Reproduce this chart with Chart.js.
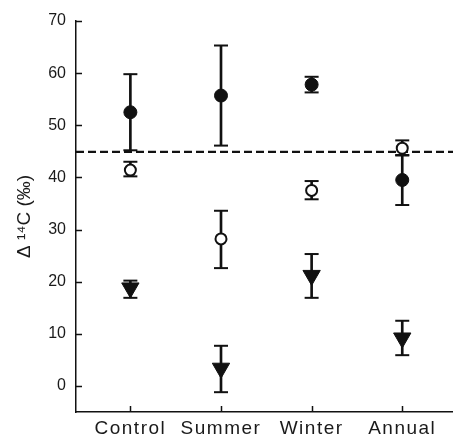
<!DOCTYPE html>
<html>
<head>
<meta charset="utf-8">
<script src="https://cdn.jsdelivr.net/npm/chart.js@4/dist/chart.umd.min.js"></script>
<style>
  html, body { margin: 0; padding: 0; background: #fff; }
  canvas { display: block; }
</style>
</head>
<body>
<canvas id="chart" width="453" height="438"></canvas>
<script>
// categories on the x axis
const categories = ['Control', 'Summer', 'Winter', 'Annual'];

// filled circles
const filledMean = [52.5, 55.7, 57.8, 39.5];
const filledLow  = [45.2, 46.1, 56.3, 34.7];
const filledHigh = [59.8, 65.3, 59.3, 44.3];

// open circles
const openMean = [41.4, 28.2, 37.5, 45.6];
const openLow  = [40.2, 22.6, 35.8, 44.2];
const openHigh = [43.0, 33.6, 39.3, 47.1];

// filled down triangles
const triMean = [18.8, 3.4, 21.2, 9.2];
const triLow  = [16.9, -1.2, 16.9, 5.9];
const triHigh = [20.2, 7.7, 25.3, 12.5];

// dashed reference line
const refValue = 44.9;

// y axis ticks
const yTicks = [0, 10, 20, 30, 40, 50, 60, 70];

const ink = '#111';
const font = "'Liberation Sans', Arial, sans-serif";

//Helpers
function stems(low, high){
    return categories.map((c, i) => ({x: i + 1, y: [low[i], high[i]]}));
}
function caps(low, high){
    let pts = [];
    for(let i = 0; i < categories.length; i++){
        pts.push({x: i + 1, y: low[i]});
        pts.push({x: i + 1, y: high[i]});
    }
    return pts;
}
function points(mean){
    return categories.map((c, i) => ({x: i + 1, y: mean[i]}));
}
function stemSet(low, high){
    return {
        type: 'bar', data: stems(low, high), backgroundColor: ink,
        barThickness: 2, grouped: false, order: 20
    };
}
function capSet(low, high){
    return {
        type: 'scatter', data: caps(low, high), pointStyle: 'line',
        pointRadius: 7, borderColor: ink, borderWidth: 2, order: 15
    };
}

//Inward tick marks
const innerTicks = {
    id: 'innerTicks',
    afterDatasetsDraw(chart){
        const c = chart.ctx;
        const x = chart.scales.x, y = chart.scales.y;
        c.save();
        c.strokeStyle = ink;
        c.lineWidth = 1.5;
        c.beginPath();
        y.ticks.forEach(t => {
            const py = Math.round(y.getPixelForValue(t.value)) + 0.5;
            c.moveTo(x.left, py);
            c.lineTo(x.left + 6, py);
        });
        x.ticks.forEach(t => {
            const px = Math.round(x.getPixelForValue(t.value)) + 0.5;
            c.moveTo(px, y.bottom);
            c.lineTo(px, y.bottom - 6);
        });
        c.stroke();
        c.restore();
    }
};

//Letter spaced category labels
const spacedLabels = {
    id: 'spacedLabels',
    beforeDraw(chart){
        const xs = chart.scales.x;
        if(xs._spaced) return;
        const orig = xs.drawLabels;
        xs.drawLabels = function(area){
            this.ctx.save();
            this.ctx.letterSpacing = '1.5px';
            orig.call(this, area);
            this.ctx.restore();
        };
        xs._spaced = true;
    }
};

var ctx = document.getElementById('chart').getContext('2d');

var chart = new Chart(ctx, {
    type: 'bar',
    data: {
        datasets: [
            {
                type: 'line',
                data: [{x: 0.4, y: refValue}, {x: 4.56, y: refValue}],
                borderColor: ink, borderWidth: 2.2, borderDash: [8, 4],
                pointRadius: 0, order: 30
            },
            stemSet(filledLow, filledHigh),
            stemSet(openLow, openHigh),
            stemSet(triLow, triHigh),
            capSet(filledLow, filledHigh),
            capSet(openLow, openHigh),
            capSet(triLow, triHigh),
            {
                type: 'scatter', data: points(filledMean), pointStyle: 'circle',
                pointRadius: 6.5, backgroundColor: ink, borderColor: ink,
                borderWidth: 1, order: 1
            },
            {
                type: 'scatter', data: points(openMean), pointStyle: 'circle',
                pointRadius: 5.5, backgroundColor: '#fff', borderColor: ink,
                borderWidth: 2, order: 1
            },
            {
                type: 'scatter', data: points(triMean), pointStyle: 'triangle',
                rotation: 180, pointRadius: 10, backgroundColor: ink,
                borderColor: ink, borderWidth: 1, order: 1
            }
        ]
    },
    options: {
        responsive: false,
        animation: false,
        devicePixelRatio: 1,
        layout: { autoPadding: false, padding: { top: 21, right: 0, bottom: 0, left: 0 } },
        plugins: { legend: { display: false }, tooltip: { enabled: false } },
        scales: {
            x: {
                type: 'linear', min: 0.4, max: 4.56, offset: false, bounds: 'ticks',
                grid: { display: false, drawTicks: false, offset: false },
                border: { display: true, color: ink, width: 1.5 },
                afterBuildTicks: (s) => { s.ticks = categories.map((c, i) => ({value: i + 1})); },
                afterFit: (s) => { s.height = 26; s.paddingLeft = 0; s.paddingRight = 0; },
                ticks: {
                    autoSkip: false, maxRotation: 0, padding: 5, color: '#1a1a1a',
                    font: { family: font, size: 19 },
                    callback: (v) => categories[Math.round(v) - 1]
                }
            },
            y: {
                type: 'linear', min: -5, max: 70,
                grid: { display: false, drawTicks: false },
                border: { display: true, color: ink, width: 1.5 },
                afterBuildTicks: (s) => { s.ticks = yTicks.map(v => ({value: v})); },
                afterFit: (s) => { s.width = 76; },
                ticks: {
                    padding: 10, color: '#1a1a1a',
                    font: { family: font, size: 16 }
                },
                title: {
                    display: true, text: 'Δ ¹⁴C (‰)', color: '#1a1a1a',
                    font: { family: font, size: 19 },
                    padding: { top: 13, bottom: 0 }
                }
            }
        }
    },
    plugins: [innerTicks, spacedLabels]
});
</script>
</body>
</html>
